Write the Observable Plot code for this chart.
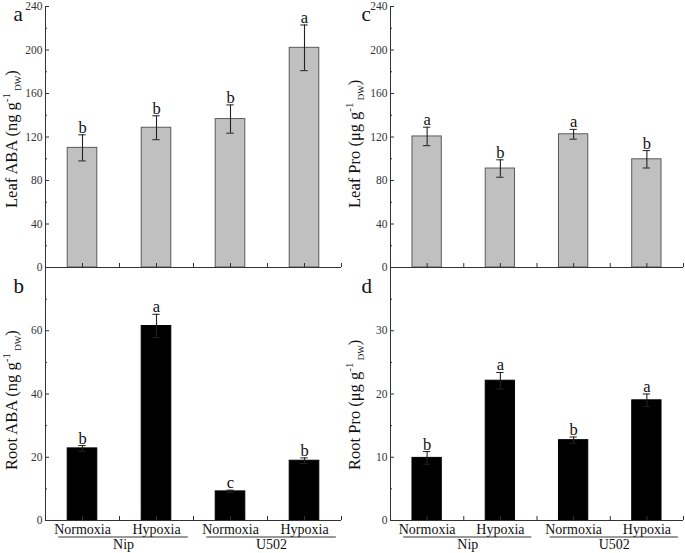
<!DOCTYPE html>
<html><head><meta charset="utf-8">
<script src="https://cdn.jsdelivr.net/npm/d3@7"></script>
<script src="https://cdn.jsdelivr.net/npm/@observablehq/plot@0.6"></script>
<style>
body{margin:0;background:#fff;}
#fig{position:relative;width:685px;height:553px;font-family:"Liberation Serif","Times New Roman",serif;}
#fig > div{position:absolute;}
</style></head><body><div id="fig"></div>
<script>
// ---- data ----
const treatments = ["Normoxia", "Hypoxia", "Normoxia", "Hypoxia"];
const genotypes = ["Nip", "U502"];
const genotypeOf = [0, 0, 1, 1];

const leafABA = [110, 128.5, 136.5, 202];
const leafABAErr = [12, 11, 13, 21];
const leafABALetters = ["b", "b", "b", "a"];

const leafPro = [120.5, 91, 122.5, 99.5];
const leafProErr = [8.5, 8, 4.5, 8];
const leafProLetters = ["a", "b", "a", "b"];

const rootABA = [22.8, 61.5, 9.2, 18.9];
const rootABAErr = [0.9, 3.7, 0.4, 0.9];
const rootABALetters = ["b", "a", "c", "b"];

const rootPro = [9.9, 22.1, 12.7, 19.0];
const rootProErr = [1.0, 1.3, 0.5, 1.0];
const rootProLetters = ["b", "a", "b", "a"];

const leafTicks = [0, 40, 80, 120, 160, 200, 240];
const rootABATicks = [0, 20, 40, 60];
const rootProTicks = [0, 10, 20, 30];

// ---- drawing ----
const AX = "#333";
function panel(o) {
  const data = o.values.map((v, i) => ({i, v, e: o.errs[i], letter: o.letters[i], t: treatments[i]}));
  const majorAll = d3.range(0, o.yMax + 1e-9, o.step);
  const minor = d3.range(o.step / 2, o.yMax, o.step);
  const labelSet = new Set(o.labels);
  const xt = d3.range(0, 3.51, 0.5);
  const marks = [
    Plot.rectY(data, {x1: d => d.i - 0.2, x2: d => d.i + 0.2, y1: 0, y2: d => d.v,
      fill: o.fill, stroke: o.barStroke, strokeWidth: 1}),
    Plot.ruleX(data, {x: "i", y1: d => d.v - d.e, y2: d => d.v + d.e, stroke: "#222", strokeWidth: 1.1}),
    Plot.ruleY(data, {y: d => d.v + d.e, x1: d => d.i - 0.05, x2: d => d.i + 0.05, stroke: "#222"}),
    Plot.ruleY(data, {y: d => d.v - d.e, x1: d => d.i - 0.05, x2: d => d.i + 0.05, stroke: "#222"}),
    Plot.text(data, {x: "i", y: d => d.v + d.e, text: "letter", lineAnchor: "bottom", dy: -2, fontSize: 16.5, fill: "#111"}),
    Plot.ruleX([-0.5], {stroke: AX}),
    Plot.ruleY([0], {stroke: AX}),
    Plot.axisY(majorAll, {tickSize: -4, tickPadding: 7, tickFormat: d => labelSet.has(d) ? String(d) : "",
      fontSize: 11.5, color: AX, label: null}),
    Plot.axisY(minor, {tickSize: -2, tickFormat: () => "", color: AX, label: null}),
    Plot.axisX(xt, {tickSize: -4, tickFormat: () => "", color: AX, label: null}),
    Plot.text([o.tag], {frameAnchor: "top-left", text: d => d, lineAnchor: "bottom", dx: o.tagDx, dy: o.tagDy, fontSize: 21, fill: "#111"}),
    Plot.text([o.yLabel], {frameAnchor: "left", text: d => d, rotate: -90, textAnchor: "start", dx: o.labDx, dy: o.labDy, fontSize: 16.5, fill: "#111"})
  ];
  if (o.cats) {
    const groups = genotypes.map((g, k) => {
      const idx = d3.range(4).filter(i => genotypeOf[i] === k);
      return {g, x1: d3.min(idx) - 0.32, x2: d3.max(idx) + 0.43};
    });
    marks.push(
      Plot.text(data, {x: "i", y: () => 0, text: "t", lineAnchor: "bottom", dy: 13.5, fontSize: 14, fill: "#111"}),
      Plot.ruleY(groups, {y: () => 0, x1: "x1", x2: "x2", dy: 16.5, stroke: "#333", strokeWidth: 1}),
      Plot.text(groups, {x: d => (d.x1 + d.x2) / 2, y: () => 0, text: "g", lineAnchor: "bottom", dy: 28.5, fontSize: 14, fill: "#111"})
    );
  }
  const svg = Plot.plot({
    width: o.width, height: o.height,
    marginTop: o.mt, marginBottom: o.mb, marginLeft: o.ml, marginRight: o.mr,
    x: {domain: [-0.5, 3.5]},
    y: {domain: [0, o.yMax]},
    style: {fontFamily: "Liberation Serif, Times New Roman, serif", fontSize: "11px", background: "transparent", overflow: "visible", color: "#111"},
    marks
  });
  // superscript / subscript in the axis title
  d3.select(svg).selectAll("text").filter(function () { return this.textContent === o.yLabel; })
    .each(function () {
      const t = d3.select(this);
      t.text(null);
      t.append("tspan").text(o.yBase);
      t.append("tspan").attr("font-size", 11).attr("dy", -7).text("-1");
      t.append("tspan").attr("font-size", 9).attr("dy", 11).text(" DW");
      t.append("tspan").attr("font-size", 16.5).attr("dy", -4).text(")");
    });
  const wrap = document.createElement("div");
  wrap.style.left = o.left + "px";
  wrap.style.top = o.top + "px";
  wrap.appendChild(svg);
  document.getElementById("fig").appendChild(wrap);
}

const L = {left: 0, width: 342, ml: 45, mr: 1, labDx: -34, tagDx: -32};
const R = {left: 342, width: 343, ml: 48, mr: 2, labDx: -36, tagDx: -29};
const T = {top: 0, height: 270, mt: 6, mb: 3, tagDy: 14, labDy: 71};
const B = {top: 262, height: 291, mt: 5, mb: 33, tagDy: 25, labDy: 76, cats: true};

panel({...L, ...T, values: leafABA, errs: leafABAErr, letters: leafABALetters, fill: "#c0c0c0", barStroke: "#5a5a5a",
  yMax: 240, step: 40, labels: leafTicks, tag: "a", yLabel: "Leaf ABA (ng g-1 DW)", yBase: "Leaf ABA (ng g"});
panel({...R, ...T, values: leafPro, errs: leafProErr, letters: leafProLetters, fill: "#c0c0c0", barStroke: "#5a5a5a",
  yMax: 240, step: 40, labels: leafTicks, tag: "c", yLabel: "Leaf Pro (μg g-1 DW)", yBase: "Leaf Pro (μg g"});
panel({...L, ...B, values: rootABA, errs: rootABAErr, letters: rootABALetters, fill: "#000", barStroke: "#000",
  yMax: 80, step: 20, labels: rootABATicks, tag: "b", yLabel: "Root ABA (ng g-1 DW)", yBase: "Root ABA (ng g"});
panel({...R, ...B, values: rootPro, errs: rootProErr, letters: rootProLetters, fill: "#000", barStroke: "#000",
  yMax: 40, step: 10, labels: rootProTicks, tag: "d", yLabel: "Root Pro (μg g-1 DW)", yBase: "Root Pro (μg g"});
</script></body></html>
